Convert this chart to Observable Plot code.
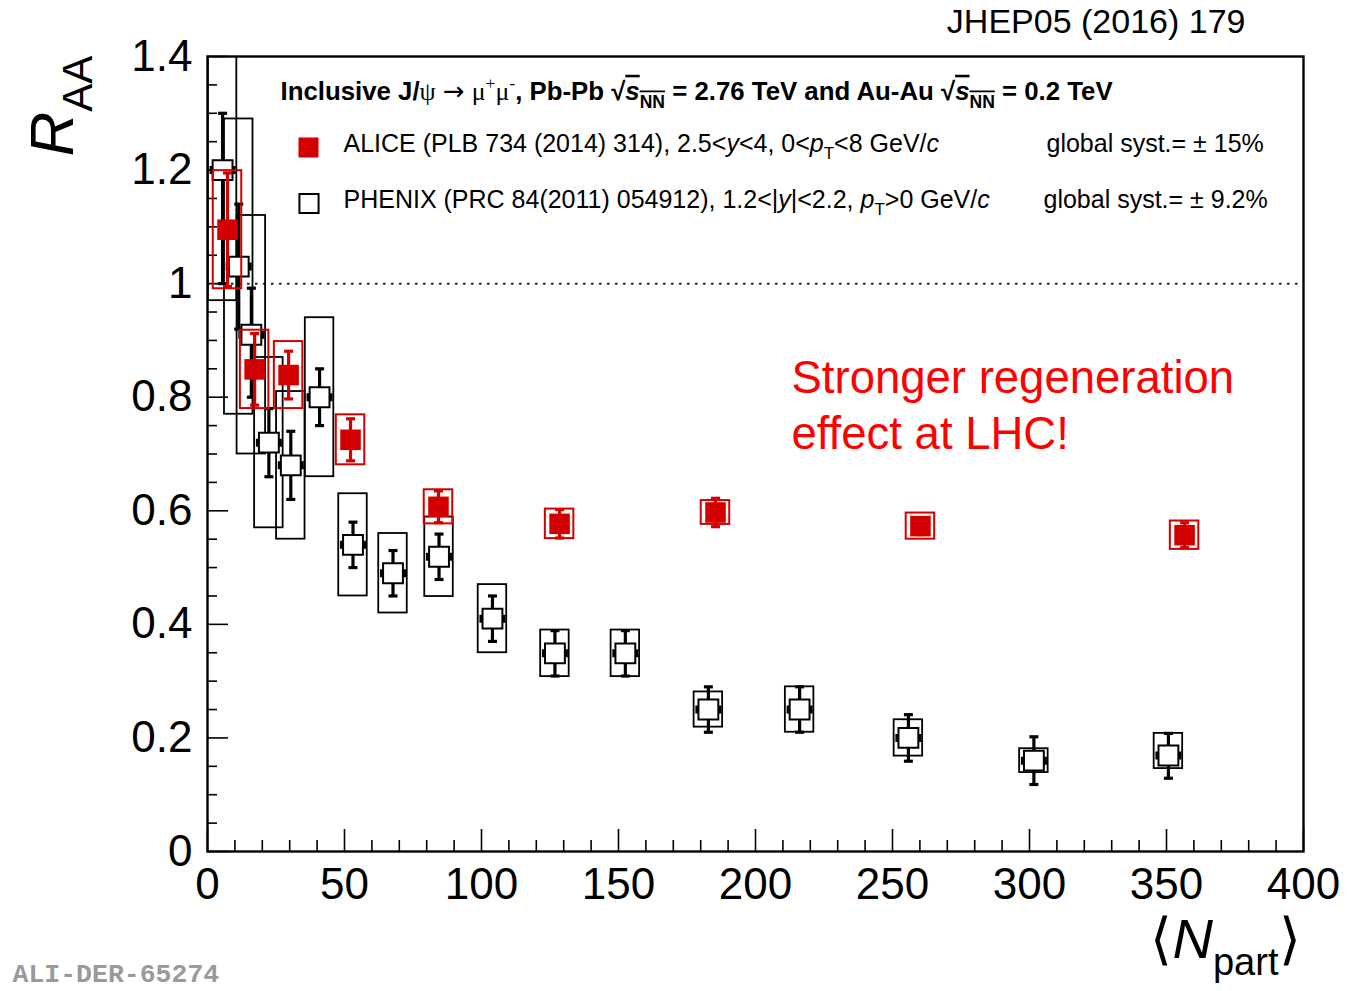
<!DOCTYPE html>
<html>
<head>
<meta charset="utf-8">
<script src="https://cdn.jsdelivr.net/npm/d3@7"></script>
<script src="https://cdn.jsdelivr.net/npm/@observablehq/plot@0.6"></script>
<style>
  html, body { margin: 0; padding: 0; background: white; }
  svg { display: block; }
</style>
</head>
<body>
<div id="chart"></div>
<script>
// ---------------- data ----------------
const aliceNpart = [356.6, 260.2, 185.4, 128.5, 84.3, 52.2, 29.6, 17.2, 7.3];
const aliceRaa   = [0.557, 0.573, 0.597, 0.577, 0.607, 0.725, 0.839, 0.849, 1.095];
const aliceStat  = [0.022, 0.015, 0.025, 0.025, 0.028, 0.037, 0.042, 0.063, 0.100];
const aliceSyst  = [0.025, 0.023, 0.021, 0.026, 0.030, 0.044, 0.059, 0.069, 0.104];

const phenixNpart  = [350.7, 301.6, 255.8, 216.1, 182.8, 152.5, 126.8, 104.0, 84.5, 67.7, 53.1, 40.9, 30.4, 22.4, 16.0, 11.4, 5.5];
const phenixRaa    = [0.169, 0.160, 0.200, 0.250, 0.250, 0.349, 0.349, 0.410, 0.519, 0.490, 0.540, 0.800, 0.680, 0.720, 0.910, 1.030, 1.200];
const phenixStatHi = [0.039, 0.042, 0.041, 0.040, 0.040, 0.040, 0.040, 0.040, 0.040, 0.040, 0.040, 0.050, 0.060, 0.060, 0.082, 0.110, 0.100];
const phenixStatLo = [0.040, 0.042, 0.041, 0.040, 0.040, 0.040, 0.040, 0.040, 0.040, 0.040, 0.040, 0.050, 0.060, 0.060, 0.110, 0.110, 0.200];
const phenixSystHi = [0.039, 0.021, 0.032, 0.040, 0.031, 0.041, 0.041, 0.060, 0.070, 0.070, 0.090, 0.140, 0.130, 0.150, 0.210, 0.260, 0.230];
const phenixSystLo = [0.023, 0.021, 0.032, 0.040, 0.031, 0.041, 0.041, 0.060, 0.070, 0.070, 0.090, 0.140, 0.130, 0.150, 0.210, 0.260, 0.230];

const xMajorTicks = [0, 50, 100, 150, 200, 250, 300, 350, 400];
const xMinorTicks = [10, 20, 30, 40, 60, 70, 80, 90, 110, 120, 130, 140, 160, 170, 180, 190, 210, 220, 230, 240, 260, 270, 280, 290, 310, 320, 330, 340, 360, 370, 380, 390];
const yMajorTicks = [0, 0.2, 0.4, 0.6, 0.8, 1.0, 1.2, 1.4];
const yMinorTicks = [0.05, 0.1, 0.15, 0.25, 0.3, 0.35, 0.45, 0.5, 0.55, 0.65, 0.7, 0.75, 0.85, 0.9, 0.95, 1.05, 1.1, 1.15, 1.25, 1.3, 1.35];
const yTickLabels = ["0", "0.2", "0.4", "0.6", "0.8", "1", "1.2", "1.4"];
const xTickLabels = ["0", "50", "100", "150", "200", "250", "300", "350", "400"];

const legendTitle = "Inclusive J/{s:ψ} {a:→} {s:μ}{^s:+}{s:μ}{^s:-}, Pb-Pb √{io:s}{_o:NN} = 2.76 TeV and Au-Au √{io:s}{_o:NN} = 0.2 TeV";
const legendAlice = "ALICE (PLB 734 (2014) 314), 2.5<{i:y}<4, 0<{i:p}{_:T}<8 GeV/{i:c}";
const legendPhenix = "PHENIX (PRC 84(2011) 054912), 1.2<|{i:y}|<2.2, {i:p}{_:T}>0 GeV/{i:c}";
const systAlice = "global syst.= ± 15%";
const systPhenix = "global syst.= ± 9.2%";
const annotation1 = "Stronger regeneration";
const annotation2 = "effect at LHC!";
const reference = "JHEP05 (2016) 179";
const figureId = "ALI-DER-65274";
const yTitle = "{i:R}{_:AA}";
const xTitle = "⟨{i:N}{_:part}⟩";

// ---------------- rows ----------------
const alice = aliceNpart.map((x, i) => ({x, y: aliceRaa[i], stat: aliceStat[i], syst: aliceSyst[i]}));
const phenix = phenixNpart.map((x, i) => ({x, y: phenixRaa[i], sHi: phenixStatHi[i], sLo: phenixStatLo[i], yHi: phenixSystHi[i], yLo: phenixSystLo[i]}));

const RED = "#d40000";
const BOXHALF = 5.2; // half-width of systematic boxes in Npart units

const capSym = {draw(ctx) { ctx.rect(-4.5, -1.6, 9, 3.2); }};
const sideSym = {draw(ctx) { ctx.rect(-13, -4, 3.2, 8); ctx.rect(9.8, -4, 3.2, 8); }};

const innerH = 991 - 56 - 140;
const innerW = 1355 - 207 - 52;

const T = (s, o) => Plot.text([s], {lineAnchor: "middle", textAnchor: "start", ...o});

const chart = Plot.plot({
  width: 1355,
  height: 991,
  marginLeft: 207,
  marginRight: 52,
  marginTop: 56,
  marginBottom: 140,
  x: {domain: [0, 400]},
  y: {domain: [0, 1.4]},
  style: {fontFamily: "'Liberation Sans', Arial, Helvetica, sans-serif", background: "white", color: "black"},
  marks: [
    // ticks (inside the frame)
    Plot.tickX(xMajorTicks, {x: d => d, insetTop: innerH - 22, stroke: "black", strokeWidth: 1.6}),
    Plot.tickX(xMinorTicks, {x: d => d, insetTop: innerH - 11, stroke: "black", strokeWidth: 1.6}),
    Plot.tickY(yMajorTicks, {y: d => d, insetRight: innerW - 21, stroke: "black", strokeWidth: 1.6}),
    Plot.tickY(yMinorTicks, {y: d => d, insetRight: innerW - 10, stroke: "black", strokeWidth: 1.6}),
    // tick labels
    Plot.axisX({ticks: xMajorTicks, tickSize: 0, tickPadding: 16, fontSize: 44, label: null,
      tickFormat: d => xTickLabels[xMajorTicks.indexOf(d)]}),
    Plot.axisY({ticks: yMajorTicks, tickSize: 0, tickPadding: 15, fontSize: 44, label: null,
      tickFormat: d => yTickLabels[yMajorTicks.findIndex(v => Math.abs(v - d) < 1e-9)]}),
    // reference line at 1
    Plot.ruleY([1], {stroke: "#222", strokeWidth: 2, strokeDasharray: "2.5 5.5"}),

    // PHENIX
    Plot.rect(phenix, {x1: d => d.x - BOXHALF, x2: d => d.x + BOXHALF, y1: d => d.y - d.yLo, y2: d => d.y + d.yHi,
      fill: "none", stroke: "black", strokeWidth: 1.8, clip: true}),
    Plot.ruleX(phenix, {x: "x", y1: d => d.y - d.sLo, y2: d => d.y + d.sHi, stroke: "black", strokeWidth: 3.2}),
    Plot.dot(phenix, {x: "x", y: d => d.y + d.sHi, symbol: capSym, r: 1, fill: "black", stroke: "none"}),
    Plot.dot(phenix, {x: "x", y: d => d.y - d.sLo, symbol: capSym, r: 1, fill: "black", stroke: "none"}),
    Plot.dot(phenix, {x: "x", y: "y", symbol: "square", r: 11.2, fill: "white", stroke: "black", strokeWidth: 2}),
    Plot.dot(phenix, {x: "x", y: "y", symbol: sideSym, r: 1, fill: "black", stroke: "none"}),

    // ALICE
    Plot.rect(alice, {x1: d => d.x - BOXHALF, x2: d => d.x + BOXHALF, y1: d => d.y - d.syst, y2: d => d.y + d.syst,
      fill: "none", stroke: RED, strokeWidth: 2, clip: true}),
    Plot.ruleX(alice, {x: "x", y1: d => d.y - d.stat, y2: d => d.y + d.stat, stroke: RED, strokeWidth: 3.2}),
    Plot.dot(alice, {x: "x", y: d => d.y + d.stat, symbol: capSym, r: 1, fill: RED, stroke: "none"}),
    Plot.dot(alice, {x: "x", y: d => d.y - d.stat, symbol: capSym, r: 1, fill: RED, stroke: "none"}),
    Plot.dot(alice, {x: "x", y: "y", symbol: "square", r: 11.6, fill: RED, stroke: "none"}),

    // frame
    Plot.frame({stroke: "black", strokeWidth: 2.4}),

    // legend
    T(legendTitle, {frameAnchor: "top-left", dx: 73, dy: 35, fontSize: 25.8, fontWeight: "bold"}),
    Plot.dot([0], {frameAnchor: "top-left", dx: 101, dy: 91, symbol: "square", r: 11.3, fill: RED, stroke: "none"}),
    Plot.dot([0], {frameAnchor: "top-left", dx: 101.5, dy: 147, symbol: "square", r: 10.8, fill: "white", stroke: "black", strokeWidth: 2}),
    T(legendAlice, {frameAnchor: "top-left", dx: 136, dy: 87, fontSize: 25}),
    T(legendPhenix, {frameAnchor: "top-left", dx: 136, dy: 143, fontSize: 25}),
    T(systAlice, {frameAnchor: "top-left", dx: 839, dy: 87, fontSize: 25}),
    T(systPhenix, {frameAnchor: "top-left", dx: 836, dy: 143, fontSize: 25}),

    // annotation
    T(annotation1, {frameAnchor: "top-left", dx: 584, dy: 322, fontSize: 45.5, fill: "#ff0000"}),
    T(annotation2, {frameAnchor: "top-left", dx: 584, dy: 378, fontSize: 45.5, fill: "#ff0000"}),

    // outside texts
    T(reference, {frameAnchor: "top-right", dx: -58, dy: -34, textAnchor: "end", fontSize: 34}),
    T(figureId, {frameAnchor: "bottom-left", dx: -195, dy: 122, fontSize: 26.5,
      fontWeight: "bold", fill: "#9a9a9a", fontFamily: "'Liberation Mono', 'Courier New', monospace"}),
    T(yTitle, {frameAnchor: "top-left", dx: -154, dy: -1, rotate: -90, textAnchor: "end", fontSize: 62}),
    T(xTitle, {frameAnchor: "bottom-right", dx: -3, dy: 89, textAnchor: "end", fontSize: 56})
  ]
});

document.getElementById("chart").appendChild(chart);

// ---------------- rich text (sub/superscripts, italics) ----------------
function rich(textEl, markup) {
  const base = parseFloat(getComputedStyle(textEl).fontSize) || 16;
  const segs = [];
  const re = /\{([ib_^osa]+):([^}]*)\}/g;
  let last = 0, m;
  while ((m = re.exec(markup))) {
    if (m.index > last) segs.push({t: markup.slice(last, m.index), f: ""});
    segs.push({t: m[2], f: m[1]});
    last = re.lastIndex;
  }
  if (last < markup.length) segs.push({t: markup.slice(last), f: ""});
  while (textEl.firstChild) textEl.removeChild(textEl.firstChild);
  textEl.style.whiteSpace = "pre";
  let shift = 0;
  for (const s of segs) {
    const ts = document.createElementNS("http://www.w3.org/2000/svg", "tspan");
    const target = s.f.includes("_") ? 0.3 * base : s.f.includes("^") ? -0.4 * base : 0;
    if (target !== shift) { ts.setAttribute("dy", target - shift); shift = target; }
    if (s.f.includes("_") || s.f.includes("^")) ts.setAttribute("font-size", 0.68 * base);
    if (s.f.includes("i")) ts.setAttribute("font-style", "italic");
    if (s.f.includes("b")) ts.setAttribute("font-weight", "bold");
    if (s.f.includes("s")) { ts.setAttribute("font-weight", "normal"); ts.setAttribute("font-family", "'Liberation Serif', 'DejaVu Serif', serif"); }
    if (s.f.includes("a")) { ts.setAttribute("font-weight", "normal"); ts.setAttribute("font-family", "'DejaVu Sans', sans-serif"); }
    if (s.f.includes("o")) ts.setAttribute("text-decoration", "overline");
    ts.textContent = s.t;
    textEl.appendChild(ts);
  }
}
chart.querySelectorAll("text").forEach(t => {
  const s = t.textContent;
  if (/\{[ib_^osa]+:/.test(s)) rich(t, s);
});
</script>
</body>
</html>
